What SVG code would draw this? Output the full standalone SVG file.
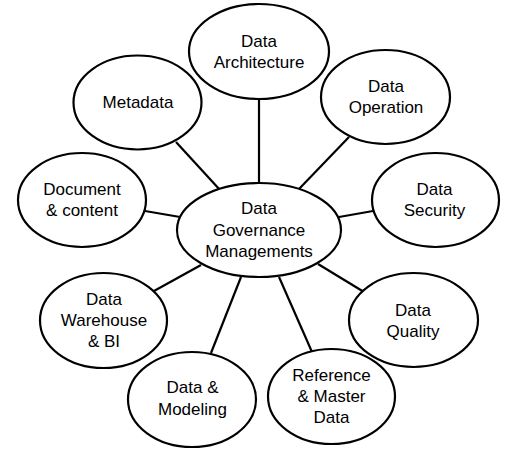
<svg xmlns="http://www.w3.org/2000/svg" width="512" height="461" viewBox="0 0 512 461">
<style>
.n ellipse{fill:#fff;stroke:#000;stroke-width:2.2}
.n text{font-family:"Liberation Sans",Arial,sans-serif;font-size:17px;fill:#000;text-anchor:middle}
#connectors line{stroke:#000;stroke-width:2.2}
</style>
<rect width="512" height="461" fill="#fff"/>
<g id="connectors">
<line x1="259" y1="99" x2="259" y2="184"/>
<line x1="176" y1="142" x2="220" y2="190"/>
<line x1="145" y1="211" x2="180" y2="217"/>
<line x1="349" y1="137" x2="299" y2="189"/>
<line x1="339" y1="217" x2="373" y2="211"/>
<line x1="154" y1="291" x2="201" y2="265"/>
<line x1="211" y1="353" x2="241" y2="277"/>
<line x1="279" y1="277" x2="312" y2="352"/>
<line x1="318" y1="264" x2="364" y2="292"/>
</g>
<g id="center" class="n"><ellipse cx="259" cy="230" rx="82" ry="47"/><text x="259" y="214">Data</text><text x="259" y="235.5">Governance</text><text x="259" y="256.5">Managements</text></g>
<g id="architecture" class="n"><ellipse cx="259" cy="51.5" rx="70" ry="47.5"/><text x="259" y="47">Data</text><text x="259" y="68">Architecture</text></g>
<g id="metadata" class="n"><ellipse cx="137.5" cy="102.5" rx="64" ry="47"/><text x="138" y="108">Metadata</text></g>
<g id="document" class="n"><ellipse cx="82" cy="200" rx="64" ry="47"/><text x="82" y="195">Document</text><text x="82" y="216">&amp; content</text></g>
<g id="operation" class="n"><ellipse cx="385.5" cy="97" rx="64.5" ry="47"/><text x="386" y="92">Data</text><text x="386" y="113">Operation</text></g>
<g id="security" class="n"><ellipse cx="435.5" cy="200" rx="63.5" ry="47"/><text x="434.5" y="195">Data</text><text x="434.5" y="216">Security</text></g>
<g id="warehouse" class="n"><ellipse cx="103.5" cy="320.5" rx="63.5" ry="47.5"/><text x="104" y="305">Data</text><text x="104" y="326">Warehouse</text><text x="104" y="347">&amp; BI</text></g>
<g id="modeling" class="n"><ellipse cx="192" cy="399.5" rx="64" ry="47.5"/><text x="192.5" y="393">Data &amp;</text><text x="192.5" y="415">Modeling</text></g>
<g id="quality" class="n"><ellipse cx="413.5" cy="320" rx="64.5" ry="47"/><text x="413" y="316">Data</text><text x="413" y="337">Quality</text></g>
<g id="reference" class="n"><ellipse cx="331.5" cy="396.5" rx="63.5" ry="47.5"/><text x="331.5" y="381">Reference</text><text x="331.5" y="402">&amp; Master</text><text x="331.5" y="423">Data</text></g>
</svg>
